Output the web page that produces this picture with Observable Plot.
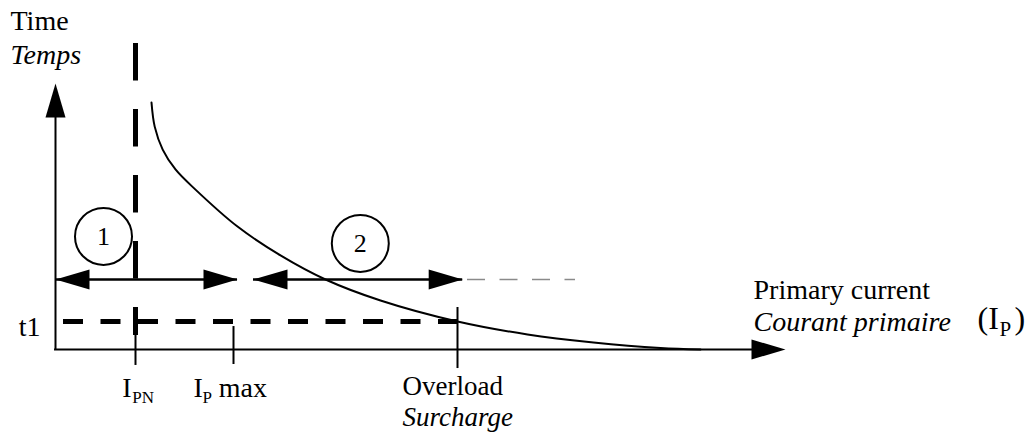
<!DOCTYPE html>
<html><head><meta charset="utf-8">
<script src="https://cdn.jsdelivr.net/npm/d3@7"></script>
<script src="https://cdn.jsdelivr.net/npm/@observablehq/plot@0.6"></script>
<style>body{margin:0;background:#fff}</style>
</head><body><div id="chart"></div>
<script>
// Schematic values (relative units): x = primary current, y = time
const IPN = 10;
const IPmax = 22.25;
const overload = 50.25;
const t1 = 10;
const xAxisEnd = 91.25;
const yAxisEnd = 95;
const ipnDashTop = 109.3;
const ipnDashBottom = 5;
const zoneLevel = 25;
const zoneStart = [0, 24.75];
const zoneEnd = [22.75, 50.9];
const zoneExt = [51.5, 65];
const zoneLabels = ["1", "2"];
const zoneX = [6, 38.1];
const zoneY = [40.4, 37.9];
const tickX = [IPN, IPmax, overload];
const tickTop = [5, 8.2, 15];
const tickBottom = [-5.7, -5.36, -6.8];
const t1Start = 1;
const curveX = [12.0, 12.4, 13.4, 15.0, 17.5, 22.75, 28.125, 33.75, 40.625, 50.25, 59.0, 67.25, 75.625, 80.625];
const curveY = [88.2, 79.6, 71.4, 64.3, 57.1, 43.9, 33.6, 25.0, 17.5, 10.0, 5.36, 2.5, 0.54, 0];

const curve = curveX.map((x, i) => ({x, y: curveY[i]}));
const heads = [
  {x: zoneStart[0], y: zoneLevel, r: 180},
  {x: zoneEnd[0], y: zoneLevel, r: 0},
  {x: zoneStart[1], y: zoneLevel, r: 180},
  {x: zoneEnd[1], y: zoneLevel, r: 0},
  {x: 0, y: yAxisEnd, r: -90},
  {x: xAxisEnd, y: 0, r: 0}
];
const arrowHead = {
  draw(ctx) {
    ctx.moveTo(0, 0);
    ctx.lineTo(-34, -10);
    ctx.lineTo(-34, 10);
    ctx.closePath();
  }
};
const F = "'Liberation Serif', 'Times New Roman', serif";
const FS = 28;
const T = (txt, o) => Plot.text([txt], {text: d => d, lineAnchor: "bottom", textAnchor: "start", fontSize: FS, fill: "black", ...o});

const chart = Plot.plot({
  width: 1031,
  height: 437,
  margin: 0,
  x: {domain: [-55 / 8, (1031 - 55) / 8], range: [0, 1031], axis: null},
  y: {domain: [-(437 - 349) / 2.8, 349 / 2.8], range: [437, 0], axis: null},
  style: {background: "white", fontFamily: F},
  marks: [
    Plot.ruleX([IPN], {y1: ipnDashTop, y2: ipnDashBottom, stroke: "black", strokeWidth: 5, strokeDasharray: "37.5 28.5"}),
    Plot.ruleY([t1], {x1: t1Start, x2: overload, stroke: "black", strokeWidth: 5, strokeDasharray: "20 17.5"}),
    Plot.ruleX(tickX, {x: d => d, y1: tickTop, y2: tickBottom, stroke: "black", strokeWidth: 2}),
    Plot.ruleY([0], {x1: -0.12, x2: xAxisEnd - 3, stroke: "black", strokeWidth: 2}),
    Plot.ruleX([0], {y1: 0, y2: yAxisEnd - 3, stroke: "black", strokeWidth: 2}),
    Plot.line(curve, {x: "x", y: "y", curve: "catmull-rom", stroke: "black", strokeWidth: 2}),
    Plot.ruleY(zoneStart, {y: () => zoneLevel, x1: zoneStart, x2: zoneEnd, stroke: "black", strokeWidth: 2.5}),
    Plot.ruleY([zoneLevel], {x1: zoneExt[0], x2: zoneExt[1], stroke: "#8a8a8a", strokeWidth: 1.5, strokeDasharray: "18 14.5"}),
    Plot.dot(heads, {x: "x", y: "y", rotate: "r", symbol: arrowHead, fill: "black", stroke: "none"}),
    Plot.dot(zoneLabels, {x: zoneX, y: zoneY, r: 28.5, stroke: "black", strokeWidth: 2, fill: "none"}),
    Plot.text(zoneLabels, {x: zoneX, y: zoneY, text: d => d, fontSize: 26, textAnchor: "middle", lineAnchor: "middle", fill: "black"}),
    // axis titles
    T("Time", {frameAnchor: "top-left", dx: 10, dy: 29}),
    T("Temps", {frameAnchor: "top-left", dx: 10, dy: 63, fontStyle: "italic"}),
    T("t1", {x: 0, y: t1, dx: -15, dy: 14, textAnchor: "end"}),
    T("I", {x: IPN, y: 0, dx: -13.3, dy: 47}),
    T("PN", {x: IPN, y: 0, dx: -3.3, dy: 53, fontSize: 17}),
    T("I", {x: IPmax, y: 0, dx: -40, dy: 47}),
    T("P", {x: IPmax, y: 0, dx: -31, dy: 53, fontSize: 17}),
    T("max", {x: IPmax, y: 0, dx: -14.7, dy: 47}),
    T("Overload", {x: overload, y: 0, dx: -55, dy: 45, fontSize: 27}),
    T("Surcharge", {x: overload, y: 0, dx: -55, dy: 76, fontSize: 27, fontStyle: "italic"}),
    T("Primary current", {x: xAxisEnd, y: 0, dx: -32, dy: -51}),
    T("Courant primaire", {x: xAxisEnd, y: 0, dx: -32, dy: -19, fontStyle: "italic"}),
    T("(I", {x: xAxisEnd, y: 0, dx: 192, dy: -21, fontSize: 32}),
    T("P", {x: xAxisEnd, y: 0, dx: 214, dy: -14, fontSize: 21}),
    T(")", {x: xAxisEnd, y: 0, dx: 229, dy: -21, fontSize: 32})
  ]
});
document.getElementById("chart").appendChild(chart);
</script>
</body></html>
